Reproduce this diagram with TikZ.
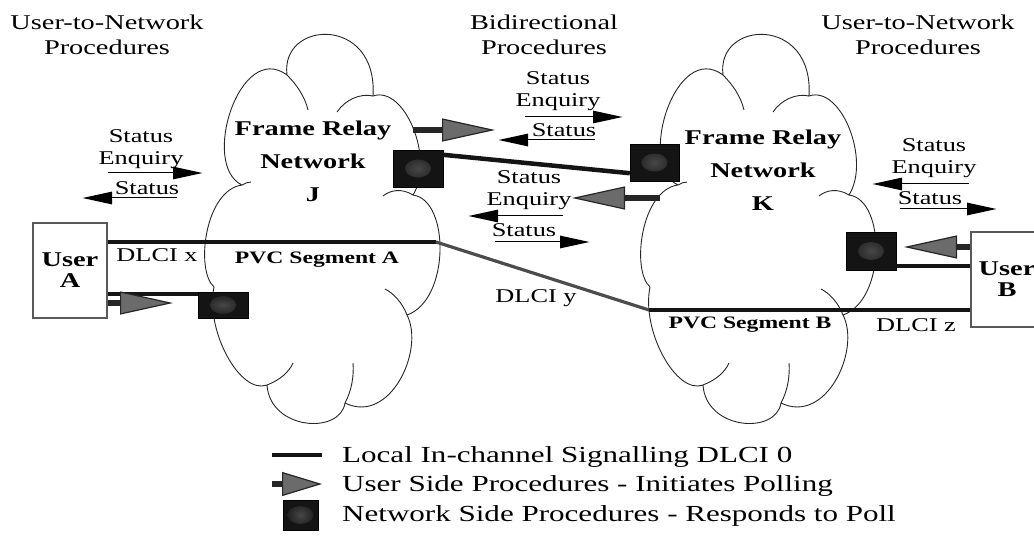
\documentclass[tikz,border=0pt]{standalone}
\usepackage{fontspec}
\setmainfont{Liberation Serif}[FakeStretch=1.35]
\usetikzlibrary{arrows.meta,calc}
\newcommand\frcloudpath{%
  (242,185) .. controls (200,165) and (240,40) .. (287,75)
  .. controls (280,20) and (378,15) .. (373,96)
  .. controls (405,85) and (435,160) .. (413,195)
  .. controls (450,200) and (450,300) .. (407,315)
  .. controls (425,350) and (390,425) .. (345,403)
  .. controls (340,435) and (270,430) .. (267,385)
  .. controls (240,395) and (205,330) .. (214,287)
  .. controls (195,270) and (205,190) .. cycle
  (287,75) .. controls (297,85) and (305,97) .. (308,110)
  (373,96) .. controls (360,93) and (345,100) .. (337,112)
  (413,195) .. controls (402,188) and (390,190) .. (383,196)
  (407,315) .. controls (402,302) and (393,293) .. (385,289)
  (345,403) .. controls (352,390) and (354,375) .. (353,363)
  (267,385) .. controls (280,380) and (289,372) .. (293,363)
  (242,185) .. controls (245,183) and (248,182) .. (251,182)}
\begin{document}
\begin{tikzpicture}[x=1pt,y=-1pt,
  hdr/.style={font=\fontsize{21}{25}\selectfont, align=center, inner sep=0pt},
  ctitle/.style={font=\bfseries\fontsize{21}{33}\selectfont, align=center, inner sep=0pt},
  lbl/.style={font=\fontsize{19.5}{22}\selectfont, align=center, inner sep=0pt},
  blbl/.style={font=\bfseries\fontsize{17.5}{22}\selectfont, inner sep=0pt},
  leg/.style={font=\fontsize{23}{26}\selectfont, anchor=west, inner sep=0pt},
  cloudline/.style={draw=black!85, line width=0.9pt},
  userbox/.style={draw=black!65, line width=1.3pt, fill=white, inner sep=0pt,
     font=\bfseries\fontsize{21}{21}\selectfont, align=center},
  nbox/.style={fill=black!92, draw=black, inner sep=0pt,
     path picture={\shade[inner color=black!72, outer color=black!92]
       (path picture bounding box.center) ellipse (13pt and 9pt);}},
  sig/.style={line width=4.5pt, draw=black!92},
  slant/.style={line width=3.2pt, draw=black!70},
  sarrow/.style={line width=2.8pt, draw=black,
     -{Triangle[length=30pt,width=12pt]},
     postaction={draw=white, line width=0.9pt, shorten >=30pt, -}},
  garrow/.style={line width=6pt, draw=black!85,
     -{Triangle[length=53pt,width=23pt,fill=black!58,color=black!85,line width=1.2pt]}}
]
\useasboundingbox (0,0) rectangle (1034,549);

% headers
\node[hdr] (h1) at (107,35) {User-to-Network\\Procedures};
\node[hdr] (h2) at (544,35) {Bidirectional\\Procedures};
\node[hdr] (h3) at (918,35) {User-to-Network\\Procedures};

% clouds
\draw[cloudline] \frcloudpath;
\begin{scope}[xshift=436pt]
\draw[cloudline] \frcloudpath;
\end{scope}
\node[ctitle] (tj) at (313,161) {Frame Relay\\Network\\J};
\node[ctitle] (tk) at (763,170) {Frame Relay\\Network\\K};

% users
\node[userbox, minimum width=74pt, minimum height=95pt] (uA) at (70,270.5) {User\\A};
\node[userbox, minimum width=72pt, minimum height=95pt] (uB) at (1007,279.5) {User\\B};

% network side boxes
\node[nbox, minimum width=50pt, minimum height=26pt] (bA) at (223,305) {};
\node[nbox, minimum width=50pt, minimum height=37pt] (bJ) at (418,168.5) {};
\node[nbox, minimum width=49pt, minimum height=37pt] (bK) at (654.5,162.5) {};
\node[nbox, minimum width=50pt, minimum height=38pt] (bB) at (871,251) {};

% PVC path
\coordinate (jR) at (436,242);
\coordinate (kL) at (649,310);
\draw[sig] (uA.east |- jR) -- (jR);
\draw[slant] (jR) -- (kL);
\draw[sig] (kL) -- (kL -| uB.west);

% local signalling lines
\draw[sig] ([yshift=-2pt]bA.north west) -- ([yshift=-2pt]bA.north west -| uA.east);
\draw[sig] ([yshift=-5pt]bJ.north east) -- ([yshift=8pt]bK.south west);
\draw[sig] ([yshift=4pt]bB.south east) -- ([yshift=4pt]bB.south east -| uB.west);

% user side arrows
\coordinate (gA) at (173,303);
\draw[garrow] (uA.east |- gA) -- (gA);
\coordinate (gJs) at (413,130);
\coordinate (gJ) at (495,130);
\draw[garrow] (gJs) -- (gJ);
\coordinate (gKs) at (660,198);
\coordinate (gK) at (572,198);
\draw[garrow] (gKs) -- (gK);
\coordinate (gB) at (904,247);
\draw[garrow] (uB.west |- gB) -- (gB);

% status labels and arrows - left
\node[lbl] (l1) at (141,149) {Status\\Enquiry};
\coordinate (l1a) at (108,173); \coordinate (l1b) at (203,173);
\draw[sarrow] (l1a) -- (l1b);
\node[lbl] (l2) at (147,188) {Status};
\coordinate (l2a) at (177,198); \coordinate (l2b) at (82,198);
\draw[sarrow] (l2a) -- (l2b);

% middle upper
\node[lbl] (m1) at (558,91) {Status\\Enquiry};
\coordinate (m1a) at (525,117); \coordinate (m1b) at (623,117);
\draw[sarrow] (m1a) -- (m1b);
\node[lbl] (m2) at (564,130) {Status};
\coordinate (m2a) at (595,140); \coordinate (m2b) at (498,140);
\draw[sarrow] (m2a) -- (m2b);

% middle lower
\node[lbl] (m3) at (529,190) {Status\\Enquiry};
\coordinate (m3a) at (563,216); \coordinate (m3b) at (468,216);
\draw[sarrow] (m3a) -- (m3b);
\node[lbl] (m4) at (524,230) {Status};
\coordinate (m4a) at (495,242); \coordinate (m4b) at (590,242);
\draw[sarrow] (m4a) -- (m4b);

% right
\node[lbl] (r1) at (934,158) {Status\\Enquiry};
\coordinate (r1a) at (969,184); \coordinate (r1b) at (872,184);
\draw[sarrow] (r1a) -- (r1b);
\node[lbl] (r2) at (930,198) {Status};
\coordinate (r2a) at (900,209); \coordinate (r2b) at (997,209);
\draw[sarrow] (r2a) -- (r2b);

% segment labels
\node[blbl] (pa) at (317,260) {PVC Segment A};
\node[blbl] (pb) at (750,325) {PVC Segment B};
\node[lbl] (dx) at (157,255) {DLCI x};
\node[lbl] (dy) at (536,298) {DLCI y};
\node[lbl] (dz) at (916,325) {DLCI z};

% legend
\coordinate (lg1a) at (272,455); \coordinate (lg1b) at (322,455);
\draw[sig] (lg1a) -- (lg1b);
\node[leg] (lt1) at (342,457) {Local In-channel Signalling DLCI 0};
\coordinate (lg2a) at (272,484); \coordinate (lg2b) at (322,484);
\draw[garrow, -{Triangle[length=40pt,width=24pt,fill=black!58,color=black!85,line width=1.2pt]}] (lg2a) -- (lg2b);
\node[leg] (lt2) at (342,486) {User Side Procedures - Initiates Polling};
\node[nbox, minimum width=35pt, minimum height=30pt] (lg3) at (300.5,515) {};
\node[leg] (lt3) at (342,516) {Network Side Procedures - Responds to Poll};
\end{tikzpicture}
\end{document}
